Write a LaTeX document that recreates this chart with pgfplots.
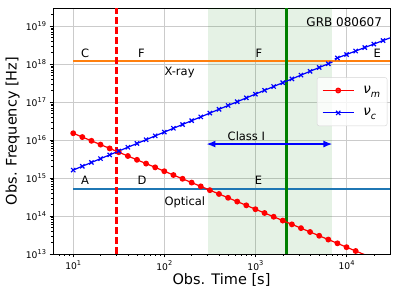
\documentclass[border=0pt]{standalone}
\usepackage{fontspec}
\setmainfont{DejaVu Sans}
\usepackage{pgfplots}
\pgfplotsset{compat=1.18}
\usetikzlibrary{arrows.meta}
\definecolor{mplorange}{HTML}{FF7F0E}
\definecolor{mplblue}{HTML}{1F77B4}
\definecolor{mplgreen}{HTML}{008000}
\definecolor{gridgray}{HTML}{CBCBCB}
\definecolor{leggray}{HTML}{D5D5D5}
\newcommand{\pw}[1]{10\raisebox{0.45em}{\fontsize{6.6bp}{7bp}\selectfont #1}}
\newcommand{\nusub}[1]{\textit{ν}\raisebox{-0.28em}{\fontsize{9.5bp}{10bp}\selectfont\textit{#1}}}
\begin{document}
\begin{tikzpicture}
\begin{axis}[
  xmode=log, ymode=log,
  scale only axis, width=337bp, height=246bp,
  xmin=6, xmax=3e4, ymin=1e13, ymax=3e19,
  xtick={10,100,1000,10000},
  xticklabels={\pw{1},\pw{2},\pw{3},\pw{4}},
  ytick={1e13,1e14,1e15,1e16,1e17,1e18,1e19},
  yticklabels={\pw{13},\pw{14},\pw{15},\pw{16},\pw{17},\pw{18},\pw{19}},
  minor xtick={7,8,9,20,30,40,50,60,70,80,90,200,300,400,500,600,700,800,900,2000,3000,4000,5000,6000,7000,8000,9000,20000},
  minor ytick={2e13,3e13,4e13,5e13,6e13,7e13,8e13,9e13,2e14,3e14,4e14,5e14,6e14,7e14,8e14,9e14,2e15,3e15,4e15,5e15,6e15,7e15,8e15,9e15,2e16,3e16,4e16,5e16,6e16,7e16,8e16,9e16,2e17,3e17,4e17,5e17,6e17,7e17,8e17,9e17,2e18,3e18,4e18,5e18,6e18,7e18,8e18,9e18,2e19},
  xtick pos=bottom, ytick pos=left,
  tick align=outside,
  major tick length=3.5bp, minor tick length=2bp,
  every tick/.style={black, line width=0.8bp},
  minor tick style={black, line width=0.6bp},
  grid=major, major grid style={gridgray, line width=0.8bp},
  axis line style={line width=0.8bp},
  tick label style={font=\fontsize{9.2bp}{11bp}\selectfont},
  label style={font=\fontsize{14.5bp}{17bp}\selectfont},
  xlabel={Obs. Time [s]}, ylabel={Obs. Frequency [Hz]},
  xlabel style={at={(axis description cs:0.5,-0.106)}, anchor=center},
  ylabel style={at={(axis description cs:-0.12,0.5)}, anchor=center},
  legend style={at={(0.992,0.718)}, anchor=north east, rounded corners=2bp,
    draw=leggray, fill=white, fill opacity=0.8, text opacity=1,
    font=\fontsize{13.5bp}{16bp}\selectfont, row sep=9.5bp, column sep=7bp,
    inner xsep=5bp, inner ysep=6.5bp, nodes={inner sep=2bp}},
  legend cell align=left,
  legend image code/.code={\draw[mark repeat=2,mark phase=2,#1] plot coordinates {(0bp,0bp) (15.5bp,0bp) (31bp,0bp)};},
]
% shaded Class I region
\addplot[draw=none, fill=mplgreen, fill opacity=0.1, forget plot] coordinates {(300,1e13) (300,3e19) (7000,3e19) (7000,1e13)} -- cycle;
% X-ray and optical bands
\addplot[mplorange, line width=2bp, forget plot] coordinates {(10,1.2e18) (3e4,1.2e18)};
\addplot[mplblue, line width=2bp, forget plot] coordinates {(10,5e14) (3e4,5e14)};
% vertical lines
\addplot[red, line width=2.5bp, dash pattern=on 7bp off 3bp, forget plot] coordinates {(30,1e13) (30,3e19)};
\addplot[mplgreen, line width=3bp, forget plot] coordinates {(2200,1e13) (2200,3e19)};
% nu_m
\addplot[red, line width=1.2bp, mark=*, mark size=2.3bp, mark options={solid, fill=red}] coordinates {
(10,1.51e16) (12.59,1.20e16) (15.85,9.55e15) (19.95,7.59e15) (25.12,6.03e15)
(31.62,4.79e15) (39.81,3.80e15) (50.12,3.02e15) (63.10,2.40e15) (79.43,1.91e15)
(100,1.51e15) (125.9,1.20e15) (158.5,9.55e14) (199.5,7.59e14) (251.2,6.03e14)
(316.2,4.79e14) (398.1,3.80e14) (501.2,3.02e14) (631.0,2.40e14) (794.3,1.91e14)
(1000,1.51e14) (1259,1.20e14) (1585,9.55e13) (1995,7.59e13) (2512,6.03e13)
(3162,4.79e13) (3981,3.80e13) (5012,3.02e13) (6310,2.40e13) (7943,1.91e13)
(10000,1.51e13) (12589,1.20e13) (15849,9.55e12)};
\addlegendentry{\nusub{m}}
% nu_c
\addplot[blue, line width=1.2bp, mark=x, mark size=3bp] coordinates {
(10,1.62e15) (12.59,2.04e15) (15.85,2.57e15) (19.95,3.24e15) (25.12,4.07e15)
(31.62,5.13e15) (39.81,6.46e15) (50.12,8.13e15) (63.10,1.02e16) (79.43,1.29e16)
(100,1.62e16) (125.9,2.04e16) (158.5,2.57e16) (199.5,3.24e16) (251.2,4.07e16)
(316.2,5.13e16) (398.1,6.46e16) (501.2,8.13e16) (631.0,1.02e17) (794.3,1.29e17)
(1000,1.62e17) (1259,2.04e17) (1585,2.57e17) (1995,3.24e17) (2512,4.07e17)
(3162,5.13e17) (3981,6.46e17) (5012,8.13e17) (6310,1.02e18)};
\addlegendentry{\nusub{c}}
\addplot[blue, line width=1.2bp, forget plot] coordinates {(6310,1.02e18) (7000,1.134e18)};
\addplot[blue, line width=1.2bp, mark=x, mark size=3bp, mark indices={2,...,8}, forget plot] coordinates {
(7413,1.36e18) (7943,1.45e18) (10000,1.79e18) (12589,2.21e18) (15849,2.73e18)
(19953,3.37e18) (25119,4.16e18) (31623,5.14e18)};
% Class I arrow
\addplot[blue, line width=1.5bp, {Latex[length=9bp,width=7bp]}-{Latex[length=9bp,width=7bp]}, forget plot] coordinates {(290,7.85e15) (7000,7.85e15)};
% annotations
\begin{scope}[every node/.style={font=\fontsize{11.5bp}{13bp}\selectfont}]
\node at (axis cs:13.5,1.9e18) {C};
\node at (axis cs:56,1.9e18) {F};
\node at (axis cs:1090,1.9e18) {F};
\node at (axis cs:21700,1.9e18) {E};
\node at (axis cs:13.5,8.6e14) {A};
\node at (axis cs:57,8.6e14) {D};
\node at (axis cs:1080,8.6e14) {E};
\node[anchor=base west, inner sep=0pt] at (axis cs:100,4.9e17) {X-ray};
\node[anchor=base west, inner sep=0pt] at (axis cs:100,1.9e14) {Optical};
\node[anchor=base west, inner sep=0pt] at (axis cs:494,1e16) {Class I};
\node[anchor=base east, inner sep=0pt, font=\fontsize{12bp}{14bp}\selectfont] at (axis cs:24600,9.6e18) {GRB 080607};
\end{scope}
\coordinate (SW) at (rel axis cs:0,0);
\end{axis}
\pgfresetboundingbox
\path[use as bounding box] (SW) ++(-53bp,-40bp) rectangle ++(398bp,294bp);
\end{tikzpicture}
\end{document}
